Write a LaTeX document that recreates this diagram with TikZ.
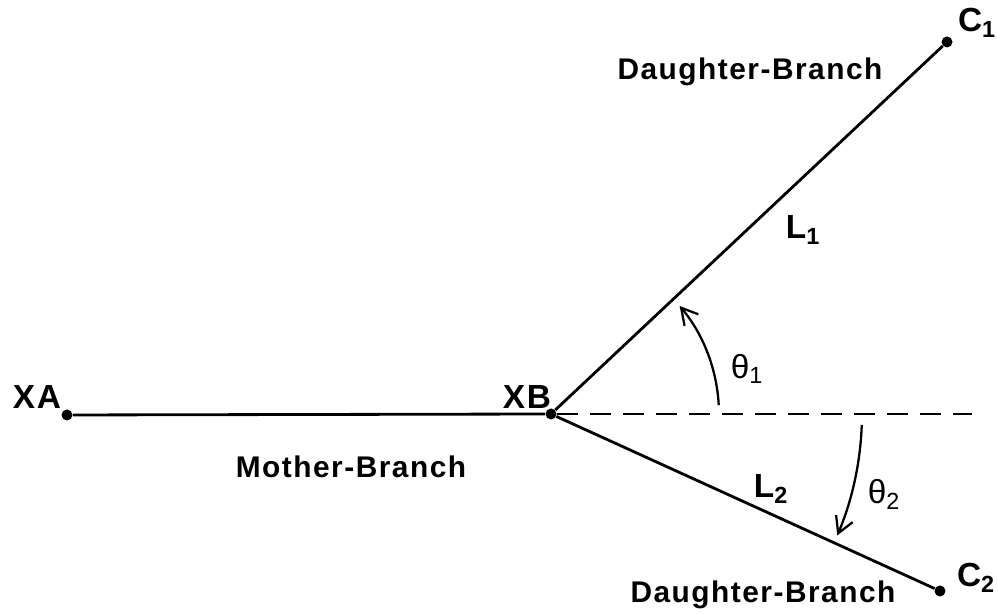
\documentclass[tikz,border=0pt]{standalone}
\usepackage{fontspec}
\setmainfont{Liberation Sans}
\newfontfamily\widefont[LetterSpace=5]{Liberation Sans}
\usetikzlibrary{arrows.meta}
\tikzset{
  lbl/.style={font=\widefont\bfseries\fontsize{17}{19}\selectfont,inner sep=1pt},
  sym/.style={font=\widefont\bfseries\fontsize{19}{21}\selectfont,inner sep=1pt},
  ang/.style={font=\fontsize{19}{21}\selectfont,inner sep=1pt},
  pt/.style={circle,fill,inner sep=0pt,minimum size=2.2mm},
  branch/.style={line width=1.6pt},
  axis/.style={line width=1.4pt,dash pattern=on 0.42cm off 0.24cm},
  turn/.style={line width=1.3pt,-{Straight Barb[length=3.2mm,width=3.6mm,line width=1.3pt]}}
}
\begin{document}
\begin{tikzpicture}[x=0.02cm,y=0.02cm]
\useasboundingbox (0,0) rectangle (998,614);
% points
\node[pt] (xa) at (67,199) {};
\node[pt] (xb) at (551,200) {};
\node[pt] (c1) at (947,572) {};
\node[pt] (c2) at (940,23) {};
\coordinate (dashend) at (972,200);
% labels
\node[sym] (xalbl) at (37,217) {XA};
\node[sym] (xblbl) at (527,217) {XB};
\node[sym] (c1lbl) at (977,591) {C\textsubscript{1}};
\node[sym] (c2lbl) at (976,36) {C\textsubscript{2}};
\node[lbl] (dtop) at (750,542) {Daughter-Branch};
\node[lbl] (dbot) at (763,19) {Daughter-Branch};
\node[lbl] (mother) at (351,147) {Mother-Branch};
\node[sym] (l1) at (803,384) {L\textsubscript{1}};
\node[sym] (l2) at (771,125) {L\textsubscript{2}};
\node[ang] (th1) at (747,245) {θ\textsubscript{1}};
\node[ang] (th2) at (884,120) {θ\textsubscript{2}};
% branches
\draw[branch] (xa) -- (xb);
\draw[branch] (xb) -- (c1);
\draw[branch] (xb) -- (c2);
\draw[axis] (xb) -- (dashend);
% angles
\coordinate (a1s) at ([shift={(3:3.36cm)}]xb.center);
\coordinate (a2s) at ([shift={(-2:6.22cm)}]xb.center);
\draw[turn] (a1s) arc[start angle=3,end angle=40,radius=3.36cm];
\draw[turn] (a2s) arc[start angle=-2,end angle=-23,radius=6.22cm];
\end{tikzpicture}
\end{document}
